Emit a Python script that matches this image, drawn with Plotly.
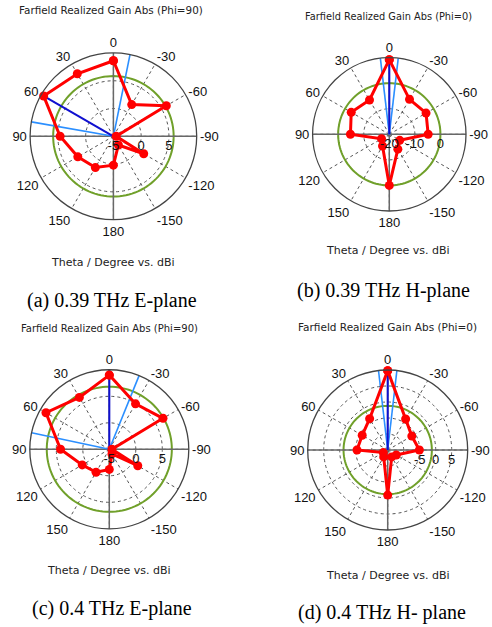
import plotly.graph_objects as go

# ---------------- data ----------------
theta_deg = [0, 30, 60, 90, 120, 150, 180, -150, -120, -90, -60, -30]
angle_tickvals = [0, 30, 60, 90, 120, 150, 180, 210, 240, 270, 300, 330]
angle_ticktext = ["0", "30", "60", "90", "120", "150", "180", "-150", "-120", "-90", "-60", "-30"]

gain_a = [8.6, 8.0, 9.5, 4.6, 2.4, 1.5, 0.2, -3.2, 1.3, -4.5, 6.0, 1.6]
gain_b = [9.2, -4.5, -2.8, -4.8, -16.5, -14.7, 0.0, -13.3, -15.3, -4.8, -3.4, -4.2]
gain_c = [9.0, 6.3, 8.8, 4.2, 0.9, 0.0, -1.2, -4.0, 1.2, -4.5, 6.7, 4.9]
gain_d = [9.8, -3.7, -5.8, -5.4, -13.4, -12.5, -0.9, -12.5, -11.9, -5.1, -6.3, -3.8]

range_a = [-5, 10]
range_b = [-20, 10]
range_c = [-5, 10]
range_d = [-15, 10]

rticks_a = [-5, 0, 5]
rticks_b = [-20, -10, 0]
rticks_c = [-5, 0, 5]
rticks_d = [-10, -5, 0, 5]
rlabels_d = ["", "-5", "0", "5"]

main_dir = [60, 0, 0, 0]              # main lobe direction (deg)
width_dirs = [[80, -11.5], [6.7, -6.7], [78, -22], [6.6, -6.6]]  # 3 dB beamwidth edges
sll_level = [5.85, 0.0, 6.8, -1.2]    # green circle level (dBi)

titles = ["Farfield Realized Gain Abs (Phi=90)", "Farfield Realized Gain Abs (Phi=0)",
          "Farfield Realized Gain Abs (Phi=90)", "Farfield Realized Gain Abs (Phi=0)"]
captions = ["(a) 0.39 THz E-plane", "(b) 0.39 THz H-plane",
            "(c) 0.4 THz E-plane", "(d) 0.4 THz H- plane"]
xlabel = "Theta / Degree vs. dBi"

# ---------------- layout geometry (pixels) ----------------
W, H = 492, 627
centers = [(113.4, 136.3, 83.3), (389.3, 134.3, 76.7), (109.3, 449.3, 79.5), (387.7, 450.0, 80.0)]
title_pos = [(111, 10), (388, 17), (109, 328), (387, 327)]
title_size = [10.4, 9.8, 10.0, 10.5]
xlabel_pos = [(113, 263), (388, 250), (109, 570), (388, 575)]
caption_pos = [(112, 300), (383, 290), (112, 608), (382, 612)]

RED = "#ff0000"
GREEN = "#70a02a"
LBLUE = "#2b8fff"
DBLUE = "#1010d0"
GRID = "#555555"
TICKFONT = dict(family="Liberation Sans", size=13, color="#111111")

fig = go.Figure()

gains = [gain_a, gain_b, gain_c, gain_d]
ranges = [range_a, range_b, range_c, range_d]
rticks = [rticks_a, rticks_b, rticks_c, rticks_d]
rlabels = [[str(v) for v in rticks_a], [str(v) for v in rticks_b], [str(v) for v in rticks_c], rlabels_d]
circle_theta = list(range(0, 361, 3))

for i in range(4):
    sp = "polar" if i == 0 else f"polar{i+1}"
    rmin, rmax = ranges[i]
    # green circle
    fig.add_trace(go.Scatterpolar(r=[sll_level[i]] * len(circle_theta), theta=circle_theta,
                                  mode="lines", line=dict(color=GREEN, width=2),
                                  subplot=sp, showlegend=False, hoverinfo="skip"))
    # solid cross axes
    for a0, a1 in [(0, 180), (90, 270)]:
        fig.add_trace(go.Scatterpolar(r=[rmax, rmin, rmax], theta=[a0, a0, a1], mode="lines",
                                      line=dict(color="#686868", width=1.5),
                                      subplot=sp, showlegend=False, hoverinfo="skip"))
    # 3 dB beamwidth lines
    for wd in width_dirs[i]:
        fig.add_trace(go.Scatterpolar(r=[rmin, rmax], theta=[wd, wd], mode="lines",
                                      line=dict(color=LBLUE, width=1.6),
                                      subplot=sp, showlegend=False, hoverinfo="skip"))
    # main lobe direction
    fig.add_trace(go.Scatterpolar(r=[rmin, rmax], theta=[main_dir[i], main_dir[i]], mode="lines",
                                  line=dict(color=DBLUE, width=2),
                                  subplot=sp, showlegend=False, hoverinfo="skip"))
    # pattern
    g = gains[i]
    fig.add_trace(go.Scatterpolar(r=g + [g[0]], theta=theta_deg + [theta_deg[0]],
                                  mode="lines+markers",
                                  line=dict(color=RED, width=3),
                                  marker=dict(color=RED, size=9),
                                  subplot=sp, showlegend=False))

    cx, cy, rr = centers[i]
    polar_cfg = dict(
        domain=dict(x=[(cx - rr) / W, (cx + rr) / W], y=[1 - (cy + rr) / H, 1 - (cy - rr) / H]),
        bgcolor="white",
        angularaxis=dict(direction="counterclockwise", rotation=90,
                         tickmode="array", tickvals=angle_tickvals, ticktext=angle_ticktext,
                         showline=True, linecolor="#444444", linewidth=1.3,
                         gridcolor=GRID, gridwidth=1, griddash="3px,3px", ticks="",
                         tickfont=TICKFONT),
        radialaxis=dict(range=[rmin, rmax], autorange=False, angle=0, side="clockwise",
                        tickmode="array", tickvals=rticks[i], ticktext=rlabels[i],
                        showline=False, ticks="", gridcolor=GRID, gridwidth=1,
                        griddash="3px,3px", tickfont=TICKFONT),
    )
    fig.layout[sp] = polar_cfg

annotations = []
for i in range(4):
    tx, ty = title_pos[i]
    annotations.append(dict(text=titles[i], x=tx / W, y=1 - ty / H, xref="paper", yref="paper",
                            showarrow=False, xanchor="center", yanchor="middle",
                            font=dict(family="DejaVu Sans", size=title_size[i], color="#222222")))
    lx, ly = xlabel_pos[i]
    annotations.append(dict(text=xlabel, x=lx / W, y=1 - ly / H, xref="paper", yref="paper",
                            showarrow=False, xanchor="center", yanchor="middle",
                            font=dict(family="DejaVu Sans", size=11, color="#222222")))
    px, py = caption_pos[i]
    annotations.append(dict(text=captions[i], x=px / W, y=1 - py / H, xref="paper", yref="paper",
                            showarrow=False, xanchor="center", yanchor="middle",
                            font=dict(family="Liberation Serif", size=20, color="#000000")))

fig.update_layout(width=W, height=H, margin=dict(l=0, r=0, t=0, b=0),
                  paper_bgcolor="white", plot_bgcolor="white",
                  annotations=annotations, showlegend=False)

fig.write_html("out.html", config={"displayModeBar": False},
               post_script="document.body.style.margin='0px';")
